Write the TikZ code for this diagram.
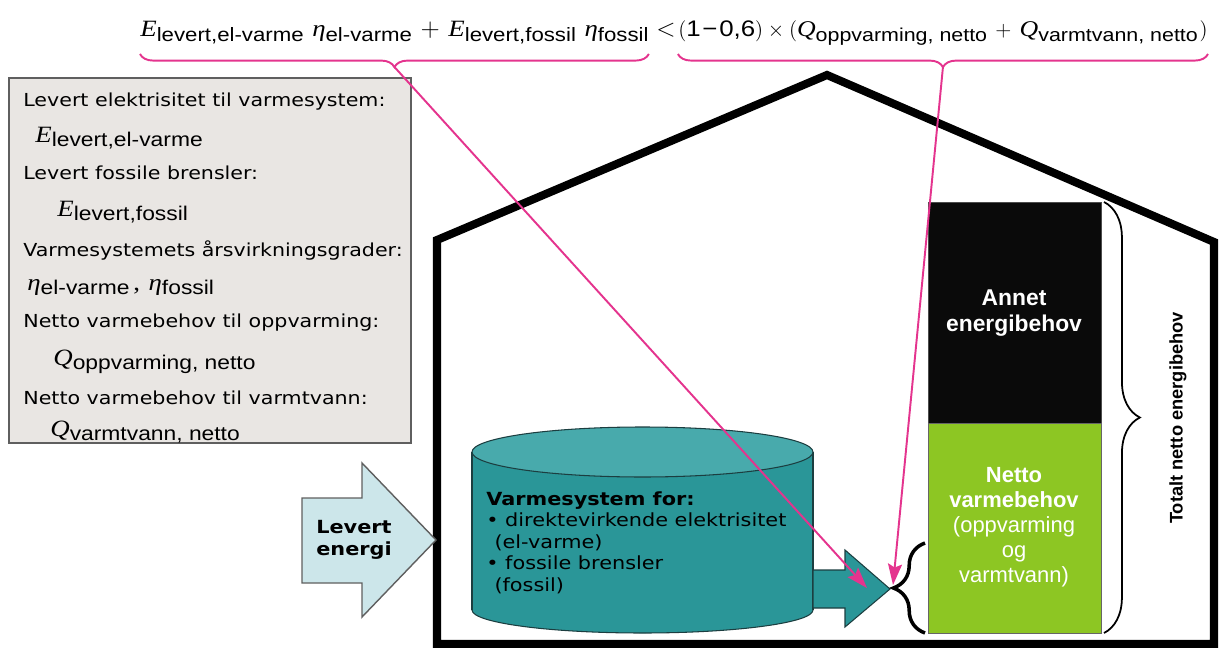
\documentclass[tikz,border=0pt]{standalone}
\usepackage{fontspec}
\setmainfont[FakeStretch=1.15]{DejaVu Sans}
\newfontfamily\arialfont{Liberation Sans}
\newfontfamily\subfont[FakeStretch=1.15]{Liberation Sans}
\newfontfamily\timesfont[FakeStretch=1.15]{Liberation Serif}
\usetikzlibrary{decorations.pathreplacing,arrows.meta}
\definecolor{pinkmag}{RGB}{228,52,142}
\definecolor{tealbody}{RGB}{42,150,152}
\definecolor{tealtop}{RGB}{72,170,172}
\definecolor{tealline}{RGB}{28,62,64}
\definecolor{arrowblue}{RGB}{204,230,234}
\definecolor{boxgray}{RGB}{233,230,227}
\definecolor{boxline}{RGB}{95,95,95}
\definecolor{needgreen}{RGB}{141,198,35}
\newcommand{\subsz}{\fontsize{11.3}{13}\selectfont}
\newcommand{\var}[2]{{\timesfont\itshape #1}\raisebox{-.35ex}{\subfont\subsz #2}}

\begin{document}
\begin{tikzpicture}[x=0.02cm,y=-0.02cm,
    formula/.style={inner sep=0pt,font=\fontsize{13.3}{16}\selectfont},
    infotxt/.style={anchor=west,inner sep=0pt,font=\fontsize{10.2}{12}\selectfont},
    pinkline/.style={draw=pinkmag,line width=1.1pt},
    pinkbrace/.style={pinkline,decorate,decoration={brace,amplitude=7.5pt}},
    pinkarrow/.style={pinkline,-{Stealth[length=12pt,width=8pt,inset=2pt]}},
    cylline/.style={draw=tealline,line width=.6pt},
    boxtxt/.style={text=white,align=center,font=\arialfont\fontsize{12.5}{14.2}\selectfont}]
  \useasboundingbox (0,0) rectangle (1219,648);

  % house
  \draw[line width=4.6pt,line join=miter] (437,644) -- (437,240) -- (827,75)
    -- (1214,242) -- (1214,644) -- cycle;

  % formula on top
  \node[formula,anchor=base west] (lhs) at (140,37)
    {\def\subsz{\fontsize{11}{13}\selectfont}%
     \var{E}{levert,el-varme} \var{η}{el-varme} $+$ \var{E}{levert,fossil} \var{η}{fossil}};
  \node[formula,anchor=base] (lt) at (666,37) {$<$};
  \node[formula,anchor=base east,font=\fontsize{12.8}{16}\selectfont] (rhs) at (1208,37)
    {\def\subsz{\fontsize{10.6}{13}\selectfont}%
     $\bigl(${\subfont 1\kern1pt−\kern1pt0,6}$\bigr)\times\bigl($\var{Q}{oppvarming, netto} $+$ \var{Q}{varmtvann, netto}\kern1pt$\bigr)$};
  \draw[pinkbrace] (lhs.east |- 0,54) -- (lhs.west |- 0,54);
  \draw[pinkbrace] (rhs.east |- 0,54) -- (rhs.west |- 0,54);
  \path (lhs.west) -- (lhs.east) coordinate[pos=.5] (lhsmid);
  \path (rhs.west) -- (rhs.east) coordinate[pos=.5] (rhsmid);
  \coordinate (lhstip) at (lhsmid |- 0,67);
  \coordinate (rhstip) at (rhsmid |- 0,67);

  % info box
  \draw[fill=boxgray,draw=boxline,line width=1pt] (9,78) rectangle (411,443);
  \foreach \xpos/\ypos/\txt [count=\i] in {
      23/102/{Levert elektrisitet til varmesystem:},
      35/138/{\fontsize{13.3}{16}\selectfont\var{E}{levert,el-varme}},
      23/173/{Levert fossile brensler:},
      57/212/{\fontsize{13.3}{16}\selectfont\var{E}{levert,fossil}},
      23/250/{Varmesystemets årsvirkningsgrader:},
      27/287/{\fontsize{13.3}{16}\selectfont\var{η}{el-varme}{\timesfont\,,} \var{η}{fossil}},
      23/323/{Netto varmebehov til oppvarming:},
      53/362/{\fontsize{13.3}{16}\selectfont\var{Q}{oppvarming, netto}},
      23/398/{Netto varmebehov til varmtvann:},
      50/432/{\fontsize{13.3}{16}\selectfont\var{Q}{varmtvann, netto}}} {
    \node[infotxt] (info\i) at (\xpos,\ypos) {\txt};
  }

  % levert energi
  \draw[fill=arrowblue,draw=boxline,line width=.8pt] (302,498) -- (362,498) -- (362,463)
    -- (436,540) -- (362,617) -- (362,583) -- (302,583) -- cycle;
  \node[align=center,font=\bfseries\fontsize{10.3}{12.5}\selectfont] (levert) at (354,540) {Levert\\energi};

  % varmesystem
  \fill[tealbody,cylline] (642.5,610) ellipse [x radius=170.5,y radius=23];
  \fill[tealbody] (472,452) rectangle (813,610);
  \draw[cylline] (472,452) -- (472,610) (813,452) -- (813,610);
  \fill[tealtop,cylline] (642.5,452) ellipse [x radius=170.5,y radius=25];
  \node[anchor=north west,inner sep=0pt,align=left,font=\fontsize{10.3}{12.3}\selectfont]
    (varmesys) at (486,491) {\textbf{Varmesystem for:}\\• direktevirkende elektrisitet\\
    \hspace{.45em}(el-varme)\\• fossile brensler\\\hspace{.45em}(fossil)};
  \fill[tealbody,cylline] (813,570) -- (845,570) -- (845,550) -- (890,589)
    -- (845,627) -- (845,608) -- (813,608) -- cycle;

  % energibehov
  \fill[black!96,draw=black!70] (928,202) rectangle (1101,423);
  \fill[needgreen,draw=black!60] (928,423) rectangle (1101,633);
  \node[boxtxt,font=\arialfont\bfseries\fontsize{13}{15}\selectfont] (annet) at (1014,313)
    {Annet\\energibehov};
  \node[boxtxt] (netto) at (1014,527)
    {\textbf{Netto}\\\textbf{varmebehov}\\(oppvarming\\og\\varmtvann)};
  \draw[line width=1pt,decorate,decoration={brace,amplitude=20.4pt}] (1104,202) -- (1104,633);
  \node[rotate=90,font=\arialfont\bfseries\fontsize{10.4}{12}\selectfont] (totalt) at (1178,418)
    {Totalt netto energibehov};
  \draw[line width=2pt,decorate,decoration={brace,amplitude=18pt}] (925,633) -- (925,543);
  \coordinate (hitright) at (893,585);
  \coordinate (hitleft) at (867,588);

  % pink links
  \draw[pinkarrow] (lhstip) -- (hitleft);
  \draw[pinkarrow] (rhstip) -- (hitright);
\end{tikzpicture}
\end{document}
